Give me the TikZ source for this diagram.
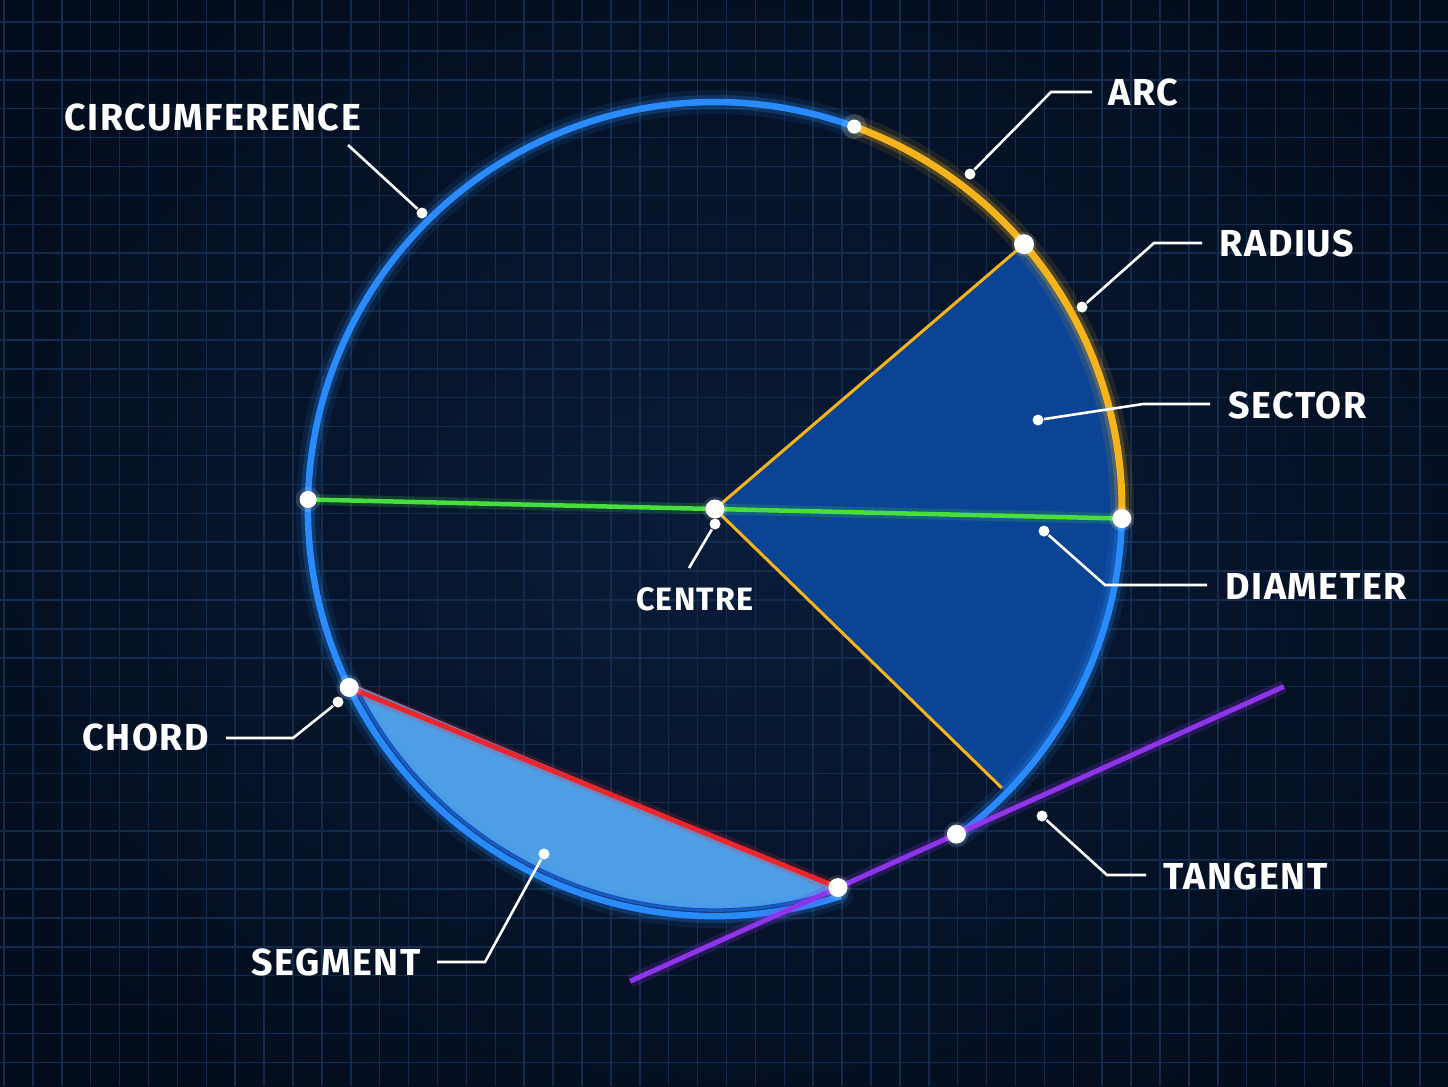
\documentclass[tikz,border=0pt]{standalone}
\usepackage{fontspec}
\setmainfont{Fira Sans}
\newfontfamily\lblfont{Fira Sans}[LetterSpace=4.0]
\usetikzlibrary{calc}
\definecolor{bgin}{RGB}{9,28,56}
\definecolor{bgout}{RGB}{3,12,28}
\definecolor{gridc}{RGB}{19,43,76}
\definecolor{circblue}{RGB}{42,140,252}
\definecolor{arcorange}{RGB}{246,180,28}
\definecolor{sectorc}{RGB}{11,68,148}
\definecolor{segc}{RGB}{78,158,230}
\definecolor{segedge}{RGB}{16,72,172}
\definecolor{diamg}{RGB}{72,222,62}
\definecolor{chordr}{RGB}{236,38,44}
\definecolor{tanp}{RGB}{142,52,235}
\tikzset{
  gridline/.style={draw=gridc, line width=0.15mm},
  glowA/.style={line width=2.4mm, opacity=0.10, line cap=round},
  glowB/.style={line width=1.4mm, opacity=0.22, line cap=round},
  lbl/.style={text=white, font=\lblfont\bfseries\fontsize{10.7}{12}\selectfont, inner sep=0pt},
  smlbl/.style={text=white, font=\lblfont\bfseries\fontsize{9.2}{10}\selectfont, inner sep=0pt},
  leader/.style={draw=white, line width=0.26mm},
  pdot/.style={circle, fill=white, inner sep=0pt, minimum size=1.1mm},
  bigdot/.style={circle, fill=white, inner sep=0pt, minimum size=1.8mm},
  halo/.style={circle, fill=white, opacity=0.12, inner sep=0pt, minimum size=2.5mm},
}
\begin{document}
\begin{tikzpicture}[x=0.1mm, y=-0.1mm]
\useasboundingbox (0,0) rectangle (1448,1086);
\shade[inner color=bgin, outer color=bgout] (-200,-150) rectangle (1648,1236);
\foreach \i in {0,...,50}{\draw[gridline] ({4+28.9*\i},0) -- ({4+28.9*\i},1086);}
\foreach \j in {0,...,38}{\draw[gridline] (0,{-6.9+28.9*\j}) -- (1448,{-6.9+28.9*\j});}

% geometry
\coordinate (C) at (715,509);
\coordinate (ArcS) at ([shift={(-70:407)}]C);
\coordinate (RadE) at ([shift={(-40.6:407)}]C);
\coordinate (DiaR) at ([shift={(1.34:407)}]C);
\coordinate (DiaL) at ([shift={(181.34:407)}]C);
\coordinate (RadL) at ([shift={(44.2:400)}]C);
\coordinate (ChL) at ([shift={(154:407)}]C);
\coordinate (ChR) at ([shift={(72:398)}]C);
\coordinate (TanP) at ([shift={(53.4:405)}]C);
\coordinate (T1) at ($(ChR)!-1.755!(TanP)$);
\coordinate (T2) at ($(ChR)!3.764!(TanP)$);

% sector
\fill[sectorc] (C) -- (RadE) arc[start angle=-40.6, end angle=44.2, radius=407] -- cycle;
% segment
\fill[segc] ([shift={(154:401)}]C) arc[start angle=154, end angle=72, radius=401] -- (ChR) -- cycle;
\draw[segedge, line width=0.35mm] ([shift={(154:401)}]C) arc[start angle=154, end angle=72, radius=401];

% circle glows
\foreach \g in {glowA,glowB}{
  \draw[circblue,\g] ([shift={(72:407)}]C) arc[start angle=72, end angle=290, radius=407];
  \draw[circblue,\g] (DiaR) arc[start angle=1.34, end angle=53.4, radius=407];
  \draw[arcorange,\g] (ArcS) arc[start angle=-70, end angle=1.34, radius=407];
}
\draw[circblue, line width=0.65mm] ([shift={(72:407)}]C) arc[start angle=72, end angle=290, radius=407];
\draw[circblue, line width=0.65mm] (DiaR) arc[start angle=1.34, end angle=53.4, radius=407];
\draw[arcorange, line width=0.7mm] (ArcS) arc[start angle=-70, end angle=1.34, radius=407];

% radii
\draw[arcorange, line width=0.3mm] (C) -- (RadE);
\draw[arcorange, line width=0.3mm] (C) -- (RadL);
% diameter
\draw[diamg, line width=1.1mm, opacity=0.18] (DiaL) -- (DiaR);
\draw[diamg, line width=0.45mm] (DiaL) -- (DiaR);
% chord
\draw[chordr, line width=1.2mm, opacity=0.18] (ChL) -- (ChR);
\draw[chordr, line width=0.5mm] (ChL) -- (ChR);
% tangent
\draw[tanp, line width=1.3mm, opacity=0.2] (T1) -- (T2);
\draw[tanp, line width=0.5mm] (T1) -- (T2);

% main dots
\foreach \p in {ArcS,RadE,DiaL,C,DiaR,ChL,ChR,TanP}{\node[halo] at (\p) {};}
\node[bigdot, minimum size=1.4mm] (dArcS) at (ArcS) {};
\node[bigdot, minimum size=2mm] (dRadE) at (RadE) {};
\node[bigdot, minimum size=1.7mm] (dDiaL) at (DiaL) {};
\node[bigdot, minimum size=1.9mm] (dC) at (C) {};
\node[bigdot, minimum size=1.9mm] (dDiaR) at (DiaR) {};
\node[bigdot, minimum size=1.9mm] (dChL) at (ChL) {};
\node[bigdot, minimum size=1.9mm] (dChR) at (ChR) {};
\node[bigdot, minimum size=1.9mm] (dTanP) at (TanP) {};

% labels and leaders
\node[lbl, anchor=west] (lCirc) at (64,117) {CIRCUMFERENCE};
\node[pdot] (pCirc) at (422,213) {};
\coordinate (eCirc) at (348,145);
\draw[leader] (pCirc) -- (eCirc);

\node[lbl, anchor=west] (lArc) at (1108,92) {ARC};
\node[pdot] (pArc) at (970,174) {};
\coordinate (kArc) at (1051,92);
\coordinate (eArc) at (1092,92);
\draw[leader] (pArc) -- (kArc) -- (eArc);

\node[lbl, anchor=west] (lRad) at (1219,243) {RADIUS};
\node[pdot] (pRad) at (1082,307) {};
\coordinate (kRad) at (1154,243);
\coordinate (eRad) at (1202,243);
\draw[leader] (pRad) -- (kRad) -- (eRad);

\node[lbl, anchor=west] (lSec) at (1228,405) {SECTOR};
\node[pdot] (pSec) at (1038,420) {};
\coordinate (kSec) at (1143,404);
\coordinate (eSec) at (1210,404);
\draw[leader] (pSec) -- (kSec) -- (eSec);

\node[lbl, anchor=west] (lDia) at (1225,586) {DIAMETER};
\node[pdot] (pDia) at (1044,531) {};
\coordinate (kDia) at (1105,585);
\coordinate (eDia) at (1207,585);
\draw[leader] (pDia) -- (kDia) -- (eDia);

\node[smlbl] (lCen) at (695,599) {CENTRE};
\node[pdot] (pCen) at (715,524) {};
\coordinate (eCen) at (689,568);
\draw[leader] (pCen) -- (eCen);

\node[lbl, anchor=west] (lCho) at (82,737) {CHORD};
\node[pdot] (pCho) at (338,702) {};
\coordinate (kCho) at (293,738);
\coordinate (eCho) at (226,738);
\draw[leader] (pCho) -- (kCho) -- (eCho);

\node[lbl, anchor=west] (lSeg) at (251,962) {SEGMENT};
\node[pdot] (pSeg) at (544,854) {};
\coordinate (kSeg) at (485,962);
\coordinate (eSeg) at (437,962);
\draw[leader] (pSeg) -- (kSeg) -- (eSeg);

\node[lbl, anchor=west] (lTan) at (1163,876) {TANGENT};
\node[pdot] (pTan) at (1042,816) {};
\coordinate (kTan) at (1107,875);
\coordinate (eTan) at (1146,875);
\draw[leader] (pTan) -- (kTan) -- (eTan);
\end{tikzpicture}
\end{document}
